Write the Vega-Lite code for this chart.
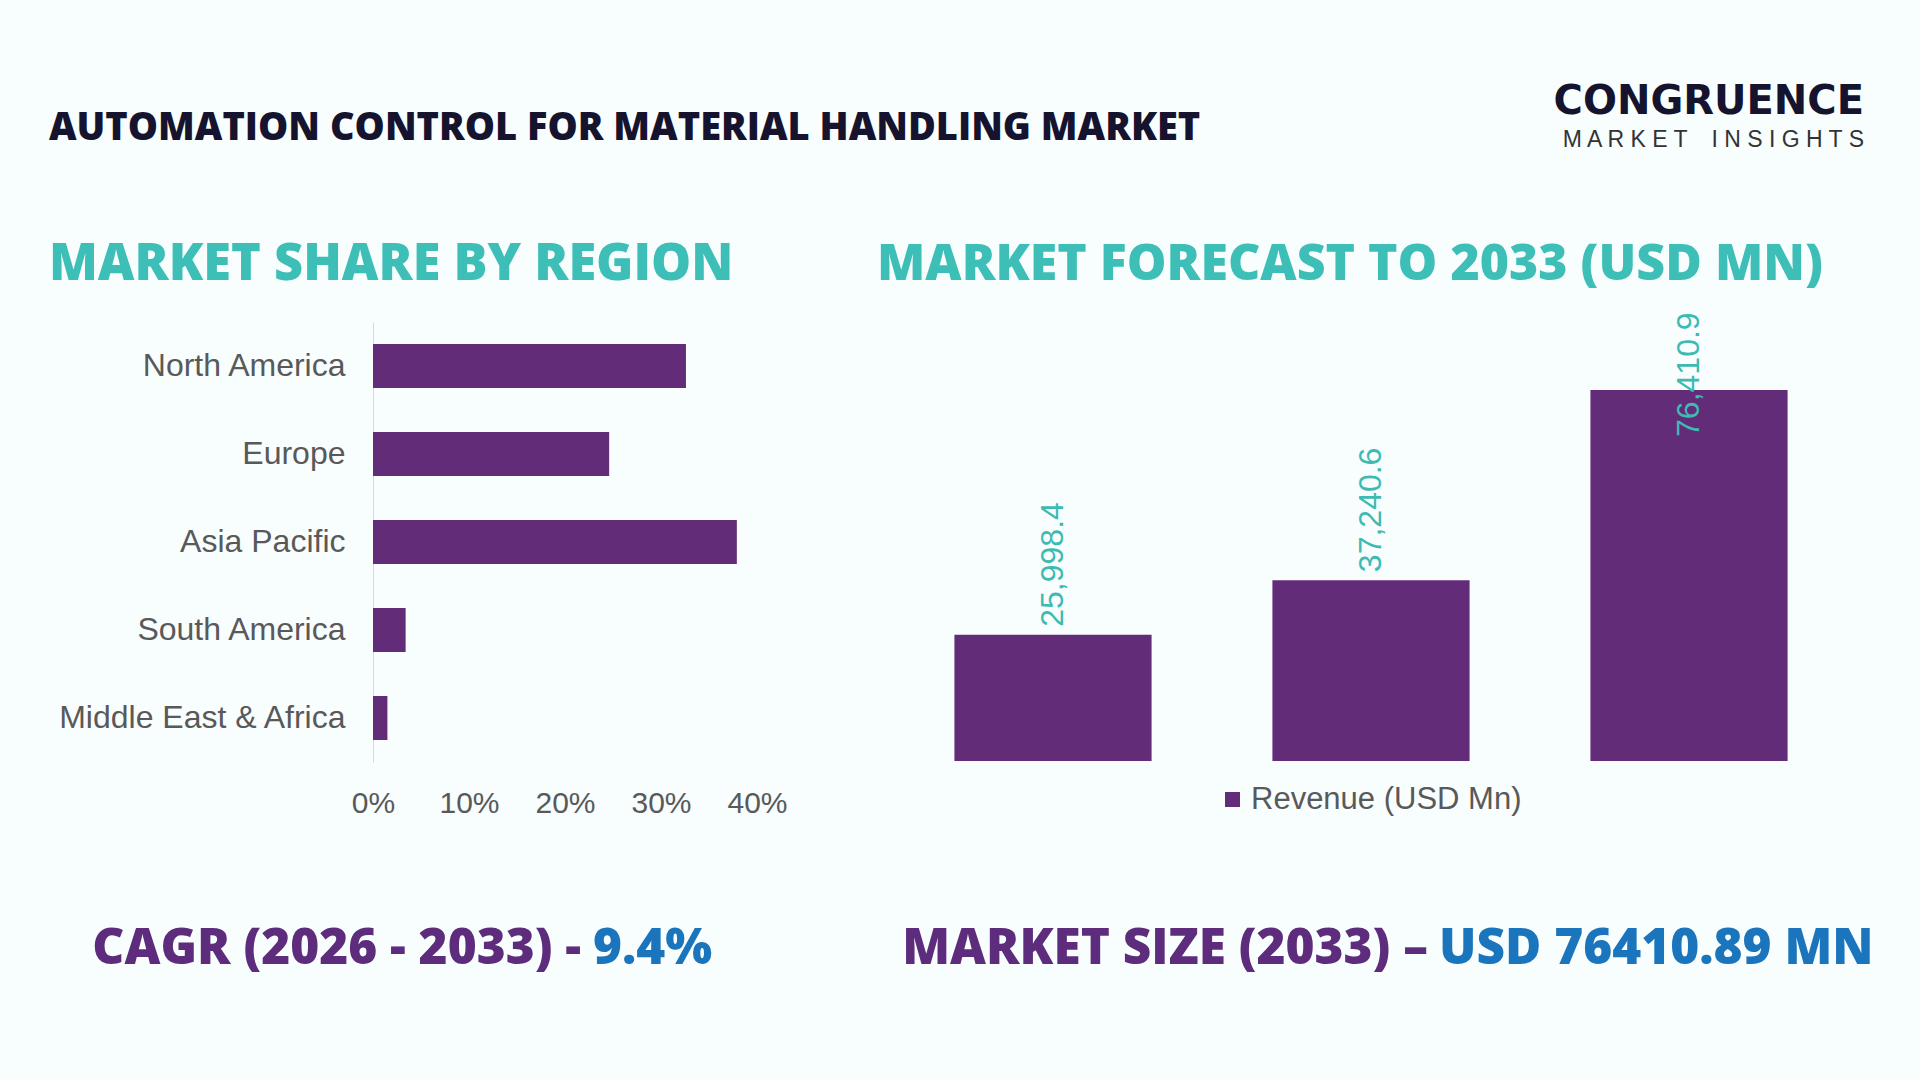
{
  "$schema": "https://vega.github.io/schema/vega-lite/v6.json",
  "background": "#f8fdfe",
  "padding": {"left": 49, "top": 82, "right": 50, "bottom": 45},
  "columns": 2,
  "align": "each",
  "bounds": "flush",
  "center": false,
  "spacing": {"row": 100, "column": 137},
  "resolve": {"legend": {"color": "independent"}, "scale": {"color": "independent"}},
  "config": {
    "view": {"stroke": null},
    "axis": {"grid": false},
    "title": {"baseline": "alphabetic"}
  },
  "concat": [
    {
      "width": 384,
      "height": 60,
      "data": {"values": [{}]},
      "mark": {"type": "text", "opacity": 0},
      "encoding": {"text": {"value": ""}},
      "title": {
        "text": "AUTOMATION CONTROL FOR MATERIAL HANDLING MARKET",
        "anchor": "start", "frame": "group", "dx": -324, "offset": 14,
        "font": "Open Sans", "fontSize": 38, "fontWeight": 800, "color": "#15132d"
      }
    },
    {
      "width": 954,
      "height": 60,
      "data": {"values": [{}]},
      "mark": {"type": "text", "opacity": 0},
      "encoding": {"text": {"value": ""}},
      "title": {
        "text": "CONGRUENCE",
        "subtitle": "M A R K E T \u2002 I N S I G H T S",
        "anchor": "end", "frame": "group", "dx": 16, "offset": 10.5,
        "font": "DejaVu Sans", "fontSize": 40, "fontWeight": "bold", "color": "#15132d",
        "subtitleFont": "Liberation Sans", "subtitleFontSize": 23, "subtitleColor": "#333333",
        "subtitlePadding": 6.5
      }
    },
    {
      "width": 384,
      "height": 440,
      "title": {
        "text": "MARKET SHARE BY REGION",
        "anchor": "start", "frame": "group", "dx": -324, "offset": 32,
        "font": "Open Sans", "fontSize": 50.5, "fontWeight": 800, "color": "#3dbfb8"
      },
      "data": {"values": [
        {"region": "North America", "share": 0.326},
        {"region": "Europe", "share": 0.246},
        {"region": "Asia Pacific", "share": 0.379},
        {"region": "South America", "share": 0.034},
        {"region": "Middle East & Africa", "share": 0.015}
      ]},
      "mark": {"type": "bar", "color": "#632c79"},
      "encoding": {
        "y": {
          "field": "region", "type": "nominal", "sort": null,
          "scale": {"paddingInner": 0.5, "paddingOuter": 0.25},
          "axis": {
            "title": null, "ticks": false, "tickSize": 0, "labelPadding": 28, "labelLimit": 0,
            "domain": true, "domainColor": "#d9d9d9", "domainWidth": 1,
            "labelFont": "Liberation Sans", "labelFontSize": 32, "labelColor": "#595959"
          }
        },
        "x": {
          "field": "share", "type": "quantitative",
          "scale": {"domain": [0, 0.4], "nice": false},
          "axis": {
            "title": null, "format": ".0%", "values": [0, 0.1, 0.2, 0.3, 0.4],
            "ticks": false, "tickSize": 0, "domain": false, "labelPadding": 26, "labelFlush": false,
            "labelFont": "Liberation Sans", "labelFontSize": 30, "labelColor": "#595959"
          }
        }
      }
    },
    {
      "width": 954,
      "height": 439,
      "title": {
        "text": "MARKET FORECAST TO 2033 (USD MN)",
        "anchor": "start", "frame": "group", "dx": -17, "offset": 22,
        "font": "Open Sans", "fontSize": 50, "fontWeight": 800, "color": "#3dbfb8"
      },
      "data": {"values": [
        {"year": "2021", "revenue": 25998.4},
        {"year": "2025", "revenue": 37240.6},
        {"year": "2033", "revenue": 76410.9}
      ]},
      "encoding": {
        "x": {
          "field": "year", "type": "nominal",
          "scale": {"type": "band", "paddingInner": 0.38, "paddingOuter": 0.19},
          "axis": null
        },
        "y": {
          "field": "revenue", "type": "quantitative",
          "scale": {"domain": [0, 90400], "nice": false},
          "axis": null
        }
      },
      "layer": [
        {
          "mark": {"type": "bar"},
          "encoding": {
            "color": {
              "datum": "Revenue (USD Mn)",
              "scale": {"range": ["#632c79"]},
              "legend": {
                "orient": "none", "legendX": 323, "legendY": 462, "direction": "horizontal",
                "title": null, "labelLimit": 0, "labelOffset": 3,
                "labelFont": "Liberation Sans", "labelFontSize": 31, "labelColor": "#595959",
                "symbolType": "square", "symbolSize": 225, "symbolStrokeWidth": 0, "symbolOpacity": 1
              }
            }
          }
        },
        {
          "mark": {
            "type": "text", "angle": 270, "align": "left", "baseline": "middle",
            "dx": {"expr": "datum.revenue > 70000 ? -47 : 8"},
            "font": "Liberation Sans", "fontSize": 32, "color": "#3dbab2"
          },
          "encoding": {
            "text": {"field": "revenue", "type": "quantitative", "format": ",.1f"}
          }
        }
      ]
    },
    {
      "width": 384,
      "height": 174,
      "data": {"values": [
        {"part": "label", "text": "CAGR (2026 - 2033) -"},
        {"part": "value", "text": "9.4%"}
      ]},
      "encoding": {
        "x": {
          "field": "part", "type": "nominal",
          "scale": {"type": "band", "domain": ["label", "value"], "paddingInner": 0, "paddingOuter": 0},
          "axis": null
        },
        "text": {"field": "text", "type": "nominal"}
      },
      "layer": [
        {
          "transform": [{"filter": "datum.part === 'label'"}],
          "mark": {"type": "text", "align": "right", "baseline": "middle", "dx": 16,
                   "font": "Open Sans", "fontSize": 49.5, "fontWeight": 800, "color": "#5e2c7c"},
          "encoding": {"x": {"field": "part", "type": "nominal", "bandPosition": 1}}
        },
        {
          "transform": [{"filter": "datum.part === 'value'"}],
          "mark": {"type": "text", "align": "left", "baseline": "middle", "dx": 28,
                   "font": "Open Sans", "fontSize": 49.5, "fontWeight": 800, "color": "#1b75bc"},
          "encoding": {"x": {"field": "part", "type": "nominal", "bandPosition": 0}}
        }
      ]
    },
    {
      "width": 954,
      "height": 174,
      "data": {"values": [
        {"part": "label", "text": "MARKET SIZE (2033) –"},
        {"part": "value", "text": "USD 76410.89 MN"}
      ]},
      "encoding": {
        "x": {
          "field": "part", "type": "nominal",
          "scale": {"type": "band", "domain": ["label", "value"], "paddingInner": 0, "paddingOuter": 0},
          "axis": null
        },
        "text": {"field": "text", "type": "nominal"}
      },
      "layer": [
        {
          "transform": [{"filter": "datum.part === 'label'"}],
          "mark": {"type": "text", "align": "right", "baseline": "middle", "dx": 57,
                   "font": "Open Sans", "fontSize": 49.5, "fontWeight": 800, "color": "#5e2c7c"},
          "encoding": {"x": {"field": "part", "type": "nominal", "bandPosition": 1}}
        },
        {
          "transform": [{"filter": "datum.part === 'value'"}],
          "mark": {"type": "text", "align": "left", "baseline": "middle", "dx": 68,
                   "font": "Open Sans", "fontSize": 49.5, "fontWeight": 800, "color": "#1b75bc"},
          "encoding": {"x": {"field": "part", "type": "nominal", "bandPosition": 0}}
        }
      ]
    }
  ]
}
